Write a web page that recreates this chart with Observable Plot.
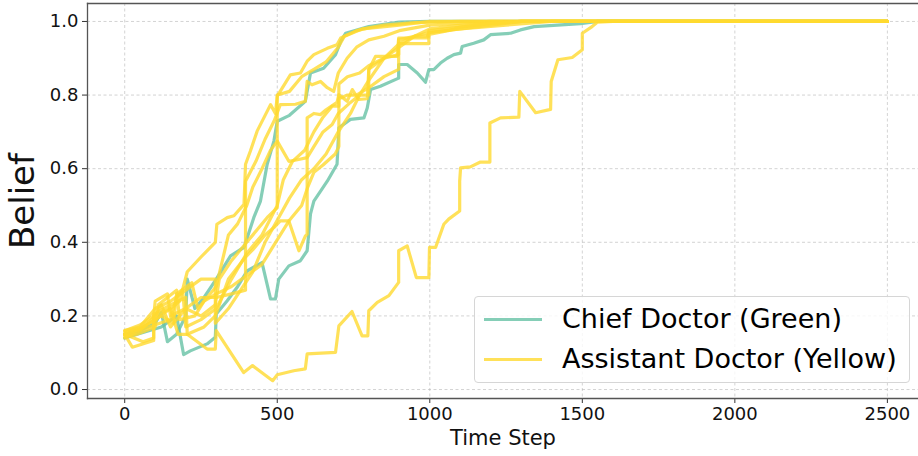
<!DOCTYPE html>
<html>
<head>
<meta charset="utf-8">
<script src="https://cdn.jsdelivr.net/npm/d3@7"></script>
<script src="https://cdn.jsdelivr.net/npm/@observablehq/plot@0.6"></script>
<style>
  html, body { margin: 0; padding: 0; background: #fff; }
  #wrap { position: relative; width: 918px; height: 456px; font-family: "DejaVu Sans", sans-serif; }
  #legend { position: absolute; left: 474px; top: 296px; width: 436px; height: 87px;
    border: 1px solid #d6d6d6; border-radius: 4px; background: rgba(255,255,255,0.8); box-sizing: border-box; }
  .item { position: absolute; left: 0; height: 40px; width: 100%; }
  .item .swatch { position: absolute; left: 9px; width: 58px; height: 0; border-top: 3px solid; top: -1.5px; }
  .item .lab { position: absolute; left: 87px; top: 0; font-size: 27px; line-height: 1; transform: translateY(-52%); color: #000; white-space: nowrap; }
</style>
</head>
<body>
<div id="wrap"></div>
<script>
// ---- data ----
const xTicks = [0, 500, 1000, 1500, 2000, 2500];
const yTicks = [0, 0.2, 0.4, 0.6, 0.8, 1.0];
const roles = ["Chief Doctor (Green)", "Assistant Doctor (Yellow)"];
const roleColors = ["#66c2a5", "#ffd92f"];
const xLabel = "Time Step";
const yLabel = "Belief";

const chiefA = [[0,0.15],[50,0.16],[100,0.18],[120,0.21],[140,0.13],[170,0.15],[200,0.2],[205,0.3],[230,0.22],[260,0.25],[300,0.3],[347,0.363],[391,0.386],[423,0.467],[445,0.512],[467,0.612],[489,0.675],[500,0.729],[540,0.745],[592,0.783],[609,0.86],[652,0.873],[691,0.91],[708,0.946],[724,0.968],[800,0.986],[900,0.998],[1000,1.0],[2500,1.0]];
const chiefB = [[0,0.14],[60,0.155],[120,0.17],[170,0.2],[193,0.095],[215,0.105],[270,0.124],[297,0.142],[300,0.205],[336,0.241],[368,0.277],[401,0.322],[450,0.345],[478,0.246],[494,0.246],[505,0.3],[538,0.336],[576,0.35],[598,0.377],[609,0.477],[620,0.512],[664,0.566],[696,0.612],[702,0.711],[740,0.734],[784,0.738],[795,0.765],[806,0.815],[838,0.824],[898,0.846],[898,0.883],[926,0.883],[959,0.86],[986,0.835],[997,0.869],[1013,0.869],[1035,0.887],[1057,0.9],[1079,0.91],[1101,0.914],[1106,0.932],[1144,0.941],[1177,0.95],[1199,0.964],[1265,0.968],[1297,0.977],[1342,0.986],[1494,0.994],[1550,1.0],[2500,1.0]];

const assist1 = [[0,0.15],[50,0.165],[100,0.19],[150,0.22],[180,0.24],[205,0.32],[250,0.36],[297,0.4],[302,0.449],[336,0.467],[358,0.472],[391,0.503],[396,0.612],[412,0.648],[434,0.702],[456,0.738],[478,0.774],[494,0.75],[500,0.797],[543,0.855],[576,0.86],[598,0.892],[620,0.91],[664,0.927],[696,0.937],[708,0.955],[760,0.975],[795,0.982],[850,0.99],[950,0.997],[1100,1.0],[2500,1.0]];
const assist2 = [[0,0.16],[50,0.175],[95,0.2],[100,0.24],[140,0.26],[150,0.2],[200,0.22],[250,0.25],[300,0.25],[350,0.26],[396,0.27],[396,0.566],[430,0.62],[460,0.68],[490,0.73],[510,0.774],[560,0.775],[592,0.783],[598,0.837],[614,0.828],[642,0.837],[664,0.82],[685,0.81],[700,0.86],[729,0.9],[760,0.93],[800,0.95],[850,0.96],[900,0.975],[1000,0.99],[1200,1.0],[2500,1.0]];
const assist3 = [[0,0.14],[50,0.16],[100,0.2],[120,0.23],[150,0.17],[200,0.22],[250,0.2],[297,0.23],[310,0.3],[350,0.35],[400,0.4],[440,0.44],[470,0.47],[500,0.494],[500,0.8],[540,0.81],[580,0.85],[620,0.87],[660,0.89],[700,0.93],[720,0.96],[780,0.98],[900,0.99],[1000,1.0],[2500,1.0]];
const assist4 = [[0,0.15],[25,0.115],[95,0.133],[95,0.205],[150,0.23],[200,0.25],[205,0.15],[260,0.17],[297,0.2],[340,0.3],[396,0.36],[420,0.38],[460,0.42],[489,0.44],[510,0.458],[538,0.458],[571,0.377],[592,0.417],[598,0.422],[598,0.738],[620,0.75],[642,0.747],[660,0.76],[696,0.78],[702,0.801],[729,0.783],[746,0.815],[767,0.788],[795,0.79],[800,0.869],[822,0.905],[893,0.905],[898,0.955],[991,0.955],[997,0.975],[1100,0.985],[1200,0.995],[1300,1.0],[2500,1.0]];
const assist5 = [[0,0.155],[60,0.17],[120,0.2],[160,0.18],[170,0.26],[220,0.29],[240,0.22],[300,0.28],[340,0.42],[370,0.45],[400,0.5],[420,0.55],[450,0.6],[478,0.65],[500,0.675],[538,0.62],[570,0.625],[598,0.63],[620,0.66],[650,0.7],[680,0.72],[700,0.75],[740,0.78],[770,0.8],[800,0.8],[800,0.87],[850,0.9],[900,0.93],[950,0.96],[1000,0.98],[1100,0.99],[1300,1.0],[2500,1.0]];
const assist6 = [[0,0.145],[40,0.15],[100,0.17],[110,0.23],[170,0.27],[180,0.19],[230,0.2],[260,0.24],[300,0.26],[350,0.28],[400,0.31],[450,0.34],[480,0.38],[510,0.42],[540,0.46],[580,0.5],[600,0.55],[620,0.59],[650,0.61],[690,0.64],[702,0.66],[702,0.79],[730,0.8],[760,0.8],[800,0.82],[850,0.85],[898,0.87],[898,0.95],[950,0.96],[997,0.96],[997,0.97],[1100,0.98],[1250,0.99],[1400,1.0],[2500,1.0]];
const assist7 = [[0,0.15],[60,0.13],[95,0.14],[95,0.2],[150,0.22],[175,0.15],[205,0.15],[270,0.11],[297,0.11],[300,0.16],[390,0.046],[419,0.065],[485,0.024],[500,0.04],[554,0.051],[592,0.056],[598,0.097],[691,0.101],[702,0.173],[745,0.212],[778,0.146],[797,0.146],[800,0.214],[828,0.237],[866,0.255],[898,0.291],[898,0.377],[926,0.39],[956,0.304],[997,0.304],[999,0.386],[1019,0.386],[1046,0.449],[1062,0.463],[1098,0.485],[1098,0.566],[1101,0.602],[1133,0.605],[1166,0.618],[1197,0.618],[1197,0.724],[1232,0.738],[1292,0.74],[1295,0.81],[1347,0.752],[1396,0.761],[1398,0.837],[1420,0.896],[1467,0.902],[1500,0.923],[1500,0.968],[1532,0.986],[1549,0.998],[1600,1.0],[2500,1.0]];
const assist8 = [[0,0.16],[50,0.17],[100,0.22],[150,0.24],[200,0.27],[250,0.3],[297,0.3],[297,0.18],[340,0.22],[380,0.27],[420,0.32],[460,0.4],[500,0.46],[540,0.52],[580,0.57],[620,0.6],[660,0.64],[700,0.7],[740,0.75],[770,0.8],[800,0.84],[850,0.9],[900,0.94],[950,0.96],[1000,0.97],[1100,0.98],[1200,0.99],[1300,1.0],[2500,1.0]];
const assist9 = [[0,0.15],[80,0.17],[150,0.19],[170,0.25],[190,0.27],[200,0.17],[250,0.19],[300,0.22],[350,0.3],[400,0.37],[450,0.42],[500,0.5],[520,0.57],[550,0.62],[590,0.65],[620,0.7],[650,0.74],[680,0.77],[702,0.77],[702,0.83],[730,0.85],[770,0.86],[800,0.88],[850,0.9],[898,0.91],[898,0.94],[997,0.94],[997,0.965],[1060,0.975],[1100,0.985],[1200,0.995],[1300,1.0],[2500,1.0]];

const chiefRuns = [chiefA, chiefB];
const assistantRuns = [assist1, assist2, assist3, assist4, assist5, assist6, assist7, assist8, assist9];

// ---- build tables ----
function toRows(runs, prefix) {
  const rows = [];
  runs.forEach((run, i) => run.forEach(([t, b]) => rows.push({t, belief: b, run: prefix + i})));
  return rows;
}
const chiefRows = toRows(chiefRuns, "c");
const assistRows = toRows(assistantRuns, "a");

const gridStyle = {stroke: "#b0b0b0", strokeOpacity: 0.7, strokeWidth: 0.8, strokeDasharray: "3,2.5"};

const chart = Plot.plot({
  width: 918,
  height: 456,
  marginLeft: 87,
  marginRight: 0,
  marginTop: 3,
  marginBottom: 58,
  style: {fontFamily: "DejaVu Sans", fontSize: "18px", background: "white", overflow: "visible"},
  x: {domain: [-122, 2602]},
  y: {domain: [-0.0244, 1.0488]},
  marks: [
    Plot.gridX(xTicks, gridStyle),
    Plot.gridY(yTicks, gridStyle),
    Plot.line(chiefRows, {x: "t", y: "belief", z: "run", stroke: roleColors[0], strokeWidth: 3.2, strokeOpacity: 0.8, curve: "linear"}),
    Plot.line(assistRows, {x: "t", y: "belief", z: "run", stroke: roleColors[1], strokeWidth: 3.2, strokeOpacity: 0.8, curve: "linear"}),
    Plot.axisX(xTicks, {tickSize: 5, tickPadding: 4, label: null, fontSize: 18, tickFormat: d3.format("d"), stroke: "#333", color: "#111"}),
    Plot.axisY(yTicks, {tickSize: 5, tickPadding: 4, label: null, fontSize: 18, tickFormat: d3.format(".1f"), stroke: "#333", color: "#111"}),
    Plot.frame({anchor: "left", stroke: "#555", strokeWidth: 1.3}),
    Plot.frame({anchor: "bottom", stroke: "#555", strokeWidth: 1.3}),
    Plot.frame({anchor: "top", stroke: "#555", strokeWidth: 1.3}),
    Plot.text([xLabel], {frameAnchor: "bottom", textAnchor: "middle", text: d => d, dy: 46, fontSize: 21, fill: "#111"}),
    Plot.text([yLabel], {frameAnchor: "left", textAnchor: "middle", lineAnchor: "middle", text: d => d, dx: -64, rotate: -90, fontSize: 34, fill: "#111"})
  ]
});

const wrap = document.getElementById("wrap");
wrap.appendChild(chart);

// legend (inside the axes, lower right)
const legend = document.createElement("div");
legend.id = "legend";
roles.forEach((r, i) => {
  const item = document.createElement("div");
  item.className = "item";
  item.style.top = (22 + i * 40) + "px";
  item.style.height = "0";
  const sw = document.createElement("div");
  sw.className = "swatch";
  sw.style.borderTopColor = roleColors[i];
  sw.style.opacity = 0.8;
  const lab = document.createElement("div");
  lab.className = "lab";
  lab.textContent = r;
  item.appendChild(sw);
  item.appendChild(lab);
  legend.appendChild(item);
});
wrap.appendChild(legend);
</script>
</body>
</html>
